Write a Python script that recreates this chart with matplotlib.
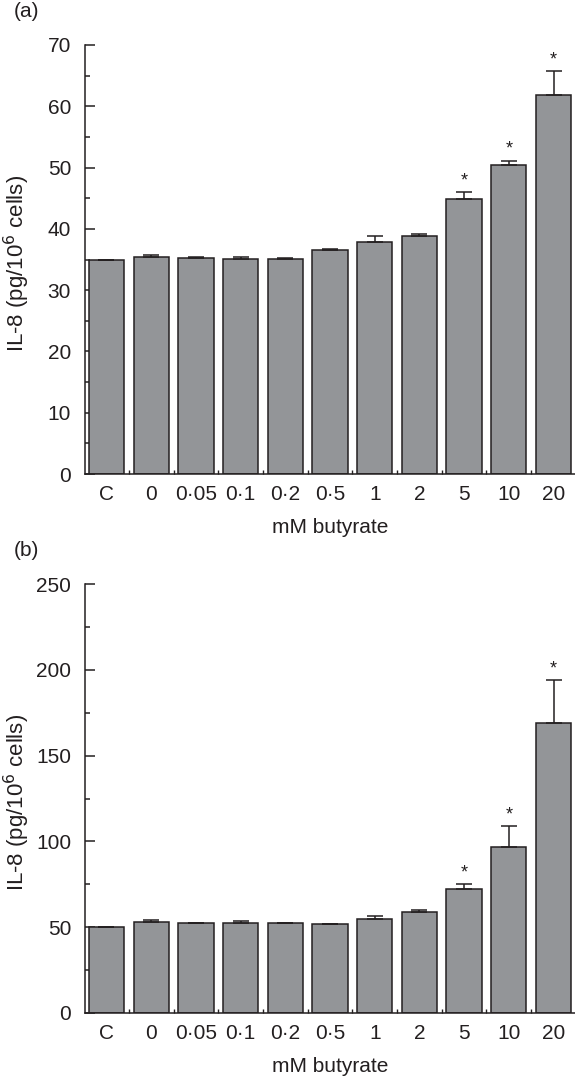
import matplotlib
matplotlib.use("Agg")
import matplotlib.pyplot as plt
import numpy as np

plt.rcParams["font.family"] = ["Liberation Sans", "DejaVu Sans"]

categories = ["C", "0", "0·05", "0·1", "0·2", "0·5", "1", "2", "5", "10", "20"]

# panel (a)
il8_a = [35.0, 35.4, 35.2, 35.1, 35.1, 36.5, 37.8, 38.8, 44.8, 50.5, 61.9]
err_a = [0.0, 0.3, 0.2, 0.3, 0.2, 0.2, 1.0, 0.3, 1.2, 0.65, 3.8]

# panel (b)
il8_b = [50.3, 53.1, 52.3, 52.5, 52.5, 52.1, 55.0, 58.7, 72.3, 96.8, 168.8]
err_b = [0.0, 1.0, 0.0, 1.0, 0.0, 0.0, 1.6, 1.6, 3.0, 12.0, 25.0]

signif = [False] * 8 + [True] * 3

BAR = "#939598"
INK = "#231f20"
FS = 15


def panel(ax, vals, errs, ymax, step, tag):
    x = np.arange(len(categories))
    zeros = np.zeros(len(errs))
    ax.bar(x, vals, width=0.79, color=BAR, edgecolor=INK, linewidth=1.1,
           yerr=[zeros, errs], capsize=5.8,
           error_kw=dict(ecolor=INK, elinewidth=1.1, capthick=1.1), zorder=2)
    for xi, v, e, s in zip(x, vals, errs, signif):
        if s:
            ax.annotate("*", (xi, v + e), xytext=(0, 2), textcoords="offset points",
                        ha="center", va="bottom", fontsize=13, color=INK)
    ax.set_xlim(-0.48, len(categories) - 0.52)
    ax.set_ylim(0, ymax)
    ax.set_yticks(np.arange(0, ymax + 1, step))
    ax.set_yticks(np.arange(step / 2, ymax, step), minor=True)
    ax.set_xticks(x)
    ax.set_xticklabels(categories)
    ax.set_xticks(x[:-1] + 0.5, minor=True)
    ax.tick_params(axis="x", which="major", length=0, pad=8, labelsize=FS, colors=INK)
    ax.tick_params(axis="x", which="minor", direction="in", length=3, width=1, color=INK)
    ax.tick_params(axis="y", which="major", direction="in", length=7, width=1.1,
                   labelsize=FS, pad=10, color=INK, labelcolor=INK)
    ax.tick_params(axis="y", which="minor", direction="in", length=3.5, width=1.1, color=INK)
    for side in ("top", "right"):
        ax.spines[side].set_visible(False)
    for side in ("left", "bottom"):
        ax.spines[side].set_color(INK)
        ax.spines[side].set_linewidth(1.1)
    ax.set_ylabel("IL-8 (pg/10$^6$ cells)", fontsize=16, color=INK)
    ax.yaxis.set_label_coords(-0.108, 0.49)
    ax.set_xlabel("mM butyrate", fontsize=FS, color=INK, labelpad=10)
    ax.text(-0.145, 1.055, tag, transform=ax.transAxes, fontsize=FS, color=INK,
            ha="left", va="bottom")


fig = plt.figure(figsize=(5.75, 10.84), dpi=100)
ax_a = fig.add_axes([85 / 575, 1 - 474 / 1084, 1 - 85 / 575, (474 - 45) / 1084])
ax_b = fig.add_axes([85 / 575, 1 - 1013 / 1084, 1 - 85 / 575, (1013 - 584) / 1084])

panel(ax_a, il8_a, err_a, 70, 10, "(a)")
panel(ax_b, il8_b, err_b, 250, 50, "(b)")

fig.savefig("out.png", dpi=100)
